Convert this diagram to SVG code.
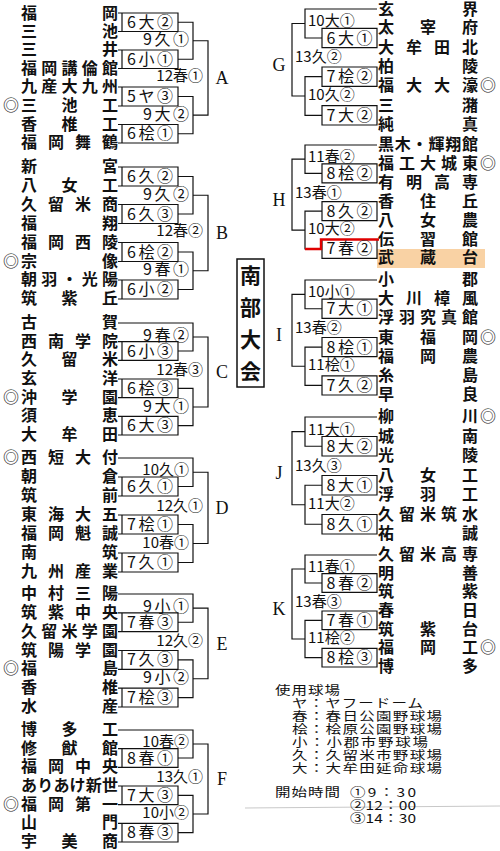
<svg xmlns="http://www.w3.org/2000/svg" width="500" height="851" viewBox="0 0 500 851">
<style>
text{font-family:"Noto Sans CJK JP","Noto Sans CJK SC",sans-serif;fill:#111}
.n{font-size:16px;font-weight:bold}
.m{font-size:16px}
.lb{font-size:16px}
.lb2{font-size:15px}
.ltr{font-family:"Liberation Serif","Noto Sans CJK JP",serif;font-size:18px;text-anchor:middle}
.c{text-anchor:middle}
.e{text-anchor:end}
.lg{font-size:15.5px}
#connectors path{fill:none;stroke:#111;stroke-width:1.2}
#connectors path.red{stroke:#e00000;stroke-width:2.4}
</style>
<rect width="500" height="851" fill="#fff"/>
<rect x="377" y="249" width="108" height="19" fill="#f9d2a4"/>
<path d="M245,808 L500,806" stroke="#c8c8c8" stroke-width="1" fill="none"/>
<g id="connectors">
<path d="M118,13H178V31.5H118M122,13V31.5M118,50H178V68.5H118M122,50V68.5M118,87H178V106H118M122,87V106M118,124.5H178V143H118M122,124.5V143M178,22.25H193V59.25H178M178,96.5H193V133.75H178M193,40.75H208V115.13H193"/>
<path d="M118,167H178V186H118M122,167V186M118,204.5H178V223.5H118M122,204.5V223.5M118,242.5H178V261.5H118M122,242.5V261.5M118,280H178V299H118M122,280V299M178,176.5H193V214H178M178,252H193V289.5H178M193,195.25H208V270.75H193"/>
<path d="M118,323H193V351H178M118,341.7H178V360.3H118M122,341.7V360.3M118,379H178V397.7H118M122,379V397.7M118,416.3H178V435H118M122,416.3V435M178,388.35H193V425.65H178M193,337H208V407H193"/>
<path d="M118,458H193V486.5H178M118,477H178V496H118M122,477V496M118,515H178V534H118M122,515V534M118,553H178V572H118M122,553V572M178,524.5H193V562.5H178M193,472.25H208V543.5H193"/>
<path d="M118,594H193V622.25H178M118,612.8H178V631.7H118M122,612.8V631.7M118,650.5H178V669.3H118M122,650.5V669.3M118,688.2H178V707H118M122,688.2V707M178,659.9H193V697.6H178M193,608.1H208V678.75H193"/>
<path d="M118,730H193V758H178M118,748.7H178V767.3H118M122,748.7V767.3M118,786H178V804.7H118M122,786V804.7M118,823.3H178V842H118M122,823.3V842M178,795.35H193V832.65H178M193,744H208V814H193"/>
<path d="M377,9H305V38H322M377,28.3H322V47.7H377ZM377,67H322V86.3H377ZM377,105.7H322V125H377ZM322,76.65H305V115.35H322M305,23.5H292V96H305"/>
<path d="M377,145H305V173.35H322M377,163.9H322V182.8H377ZM377,201.7H322V220.6H377ZM377,239.5H322V258.4H377ZM322,211.15H305V248.95H322M305,159.2H292V230.05H305"/>
<path class="red" d="M305,248.95H321V239.5H379"/>
<path d="M377,280H305V308.75H322M377,299.2H322V318.3H377ZM377,337.5H322V356.7H377ZM377,375.8H322V395H377ZM322,347.1H305V385.4H322M305,294.4H292V366.25H305"/>
<path d="M377,417H305V446.25H322M377,436.5H322V456H377ZM377,475.5H322V495H377ZM377,514.5H322V534H377ZM322,485.25H305V524.25H322M305,431.6H292V504.75H305"/>
<path d="M377,555H305V583H322M377,573.7H322V592.3H377ZM377,611H322V629.7H377ZM377,648.3H322V667H377ZM322,620.35H305V657.65H322M305,569H292V639H305"/>
</g>
<g id="block-A">
<text class="n" x="21" y="18.5" textLength="97" lengthAdjust="spacing">福岡</text>
<text class="n" x="21" y="36.5" textLength="97" lengthAdjust="spacing">三池</text>
<text class="n" x="21" y="55" textLength="97" lengthAdjust="spacing">三井</text>
<text class="n" x="21" y="73.5" textLength="97" lengthAdjust="spacing">福岡講倫館</text>
<text class="n" x="21" y="92" textLength="97" lengthAdjust="spacing">九産大九州</text>
<text class="m" x="3" y="111">◎</text>
<text class="n" x="21" y="111" textLength="97" lengthAdjust="spacing">三池工</text>
<text class="n" x="21" y="129.5" textLength="97" lengthAdjust="spacing">香椎工</text>
<text class="n" x="21" y="148" textLength="97" lengthAdjust="spacing">福岡舞鶴</text>
<text class="lb c" x="150" y="27.75" textLength="46" lengthAdjust="spacing">6大②</text>
<text class="lb c" x="150" y="64.75" textLength="46" lengthAdjust="spacing">6小①</text>
<text class="lb c" x="150" y="102" textLength="46" lengthAdjust="spacing">5ヤ③</text>
<text class="lb c" x="150" y="139.25" textLength="46" lengthAdjust="spacing">6桧①</text>
<text class="lb e" x="189" y="45.25" textLength="46" lengthAdjust="spacing">9久①</text>
<text class="lb e" x="189" y="119.6" textLength="46" lengthAdjust="spacing">9大②</text>
<text class="lb2 e" x="203" y="80.9">12春①</text>
<text class="ltr" x="222" y="84">A</text>
</g>
<g id="block-B">
<text class="n" x="21" y="172" textLength="97" lengthAdjust="spacing">新宮</text>
<text class="n" x="21" y="191" textLength="97" lengthAdjust="spacing">八女工</text>
<text class="n" x="21" y="209.5" textLength="97" lengthAdjust="spacing">久留米商</text>
<text class="n" x="21" y="228.5" textLength="97" lengthAdjust="spacing">福翔</text>
<text class="n" x="21" y="247.5" textLength="97" lengthAdjust="spacing">福岡西陵</text>
<text class="m" x="3" y="266.5">◎</text>
<text class="n" x="21" y="266.5" textLength="97" lengthAdjust="spacing">宗像</text>
<text class="n" x="21" y="285" textLength="97" lengthAdjust="spacing">朝羽・光陽</text>
<text class="n" x="21" y="304" textLength="97" lengthAdjust="spacing">筑紫丘</text>
<text class="lb c" x="150" y="182" textLength="46" lengthAdjust="spacing">6久②</text>
<text class="lb c" x="150" y="219.5" textLength="46" lengthAdjust="spacing">6久③</text>
<text class="lb c" x="150" y="257.5" textLength="46" lengthAdjust="spacing">6桧②</text>
<text class="lb c" x="150" y="295" textLength="46" lengthAdjust="spacing">6小②</text>
<text class="lb e" x="189" y="199.75" textLength="46" lengthAdjust="spacing">9久②</text>
<text class="lb e" x="189" y="275.25" textLength="46" lengthAdjust="spacing">9春①</text>
<text class="lb2 e" x="203" y="236">12春②</text>
<text class="ltr" x="222" y="239">B</text>
</g>
<g id="block-C">
<text class="n" x="21" y="328" textLength="97" lengthAdjust="spacing">古賀</text>
<text class="n" x="21" y="346.7" textLength="97" lengthAdjust="spacing">西南学院</text>
<text class="n" x="21" y="365.3" textLength="97" lengthAdjust="spacing">久留米</text>
<text class="n" x="21" y="384" textLength="97" lengthAdjust="spacing">玄洋</text>
<text class="m" x="3" y="402.7">◎</text>
<text class="n" x="21" y="402.7" textLength="97" lengthAdjust="spacing">沖学園</text>
<text class="n" x="21" y="421.3" textLength="97" lengthAdjust="spacing">須恵</text>
<text class="n" x="21" y="440" textLength="97" lengthAdjust="spacing">大牟田</text>
<text class="lb c" x="150" y="356.5" textLength="46" lengthAdjust="spacing">6小③</text>
<text class="lb c" x="150" y="393.85" textLength="46" lengthAdjust="spacing">6桧③</text>
<text class="lb c" x="150" y="431.15" textLength="46" lengthAdjust="spacing">6大③</text>
<text class="lb e" x="189" y="340.5" textLength="46" lengthAdjust="spacing">9春②</text>
<text class="lb e" x="189" y="411.5" textLength="46" lengthAdjust="spacing">9大①</text>
<text class="lb2 e" x="203" y="375">12春③</text>
<text class="ltr" x="222" y="378">C</text>
</g>
<g id="block-D">
<text class="m" x="3" y="463">◎</text>
<text class="n" x="21" y="463" textLength="97" lengthAdjust="spacing">西短大付</text>
<text class="n" x="21" y="482" textLength="97" lengthAdjust="spacing">朝倉</text>
<text class="n" x="21" y="501" textLength="97" lengthAdjust="spacing">筑前</text>
<text class="n" x="21" y="520" textLength="97" lengthAdjust="spacing">東海大五</text>
<text class="n" x="21" y="539" textLength="97" lengthAdjust="spacing">福岡魁誠</text>
<text class="n" x="21" y="558" textLength="97" lengthAdjust="spacing">南筑</text>
<text class="n" x="21" y="577" textLength="97" lengthAdjust="spacing">九州産業</text>
<text class="lb c" x="150" y="492" textLength="46" lengthAdjust="spacing">6久①</text>
<text class="lb c" x="150" y="530" textLength="46" lengthAdjust="spacing">7桧①</text>
<text class="lb c" x="150" y="568" textLength="46" lengthAdjust="spacing">7久①</text>
<text class="lb2 e" x="189" y="475.25">10久①</text>
<text class="lb2 e" x="189" y="547.5">10春①</text>
<text class="lb2 e" x="203" y="510.9">12久①</text>
<text class="ltr" x="222" y="514">D</text>
</g>
<g id="block-E">
<text class="n" x="21" y="599" textLength="97" lengthAdjust="spacing">中村三陽</text>
<text class="n" x="21" y="617.8" textLength="97" lengthAdjust="spacing">筑紫中央</text>
<text class="n" x="21" y="636.7" textLength="97" lengthAdjust="spacing">久留米学園</text>
<text class="n" x="21" y="655.5" textLength="97" lengthAdjust="spacing">筑陽学園</text>
<text class="m" x="3" y="674.3">◎</text>
<text class="n" x="21" y="674.3" textLength="97" lengthAdjust="spacing">福島</text>
<text class="n" x="21" y="693.2" textLength="97" lengthAdjust="spacing">香椎</text>
<text class="n" x="21" y="712" textLength="97" lengthAdjust="spacing">水産</text>
<text class="lb c" x="150" y="627.75" textLength="46" lengthAdjust="spacing">7春③</text>
<text class="lb c" x="150" y="665.4" textLength="46" lengthAdjust="spacing">7久③</text>
<text class="lb c" x="150" y="703.1" textLength="46" lengthAdjust="spacing">7桧③</text>
<text class="lb e" x="189" y="611.6" textLength="46" lengthAdjust="spacing">9小①</text>
<text class="lb e" x="189" y="683.25" textLength="46" lengthAdjust="spacing">9小②</text>
<text class="lb2 e" x="203" y="646.4">12久②</text>
<text class="ltr" x="222" y="649.5">E</text>
</g>
<g id="block-F">
<text class="n" x="21" y="735" textLength="97" lengthAdjust="spacing">博多工</text>
<text class="n" x="21" y="753.7" textLength="97" lengthAdjust="spacing">修猷館</text>
<text class="n" x="21" y="772.3" textLength="97" lengthAdjust="spacing">福岡中央</text>
<text class="n" x="21" y="791" textLength="97" lengthAdjust="spacing">ありあけ新世</text>
<text class="m" x="3" y="809.7">◎</text>
<text class="n" x="21" y="809.7" textLength="97" lengthAdjust="spacing">福岡第一</text>
<text class="n" x="21" y="828.3" textLength="97" lengthAdjust="spacing">山門</text>
<text class="n" x="21" y="847" textLength="97" lengthAdjust="spacing">宇美商</text>
<text class="lb c" x="150" y="763.5" textLength="46" lengthAdjust="spacing">8春①</text>
<text class="lb c" x="150" y="800.85" textLength="46" lengthAdjust="spacing">7大③</text>
<text class="lb c" x="150" y="838.15" textLength="46" lengthAdjust="spacing">8春③</text>
<text class="lb2 e" x="189" y="747">10春②</text>
<text class="lb2 e" x="189" y="818">10小②</text>
<text class="lb2 e" x="203" y="782">13久①</text>
<text class="ltr" x="222" y="785">F</text>
</g>
<g id="block-G">
<text class="n" x="378" y="15" textLength="100" lengthAdjust="spacing">玄界</text>
<text class="n" x="378" y="33.3" textLength="100" lengthAdjust="spacing">太宰府</text>
<text class="n" x="378" y="52.7" textLength="100" lengthAdjust="spacing">大牟田北</text>
<text class="n" x="378" y="72" textLength="100" lengthAdjust="spacing">柏陵</text>
<text class="n" x="378" y="91.3" textLength="100" lengthAdjust="spacing">福大大濠</text>
<text class="m" x="480" y="91.3">◎</text>
<text class="n" x="378" y="110.7" textLength="100" lengthAdjust="spacing">三潴</text>
<text class="n" x="378" y="130" textLength="100" lengthAdjust="spacing">純真</text>
<text class="lb c" x="349.5" y="43.5" textLength="46" lengthAdjust="spacing">6大①</text>
<text class="lb c" x="349.5" y="82.15" textLength="46" lengthAdjust="spacing">7桧②</text>
<text class="lb c" x="349.5" y="120.85" textLength="46" lengthAdjust="spacing">7大②</text>
<text class="lb2" x="308" y="26">10大①</text>
<text class="lb2" x="308" y="100">10久②</text>
<text class="lb2" x="295" y="62">13久②</text>
<text class="ltr" x="279" y="71">G</text>
</g>
<g id="block-H">
<text class="n" x="378" y="150" textLength="100" lengthAdjust="spacing">黒木・輝翔館</text>
<text class="n" x="378" y="168.9" textLength="100" lengthAdjust="spacing">福工大城東</text>
<text class="m" x="480" y="168.9">◎</text>
<text class="n" x="378" y="187.8" textLength="100" lengthAdjust="spacing">有明高専</text>
<text class="n" x="378" y="206.7" textLength="100" lengthAdjust="spacing">香住丘</text>
<text class="n" x="378" y="225.6" textLength="100" lengthAdjust="spacing">八女農</text>
<text class="n" x="378" y="244.5" textLength="100" lengthAdjust="spacing">伝習館</text>
<text class="n" x="378" y="263.4" textLength="100" lengthAdjust="spacing">武蔵台</text>
<text class="lb c" x="349.5" y="178.85" textLength="46" lengthAdjust="spacing">8桧②</text>
<text class="lb c" x="349.5" y="216.65" textLength="46" lengthAdjust="spacing">8久②</text>
<text class="lb c" x="349.5" y="254.45" textLength="46" lengthAdjust="spacing">7春②</text>
<text class="lb2" x="308" y="162">11春②</text>
<text class="lb2" x="308" y="234">10大②</text>
<text class="lb2" x="295" y="197.6">13春①</text>
<text class="ltr" x="279" y="206">H</text>
</g>
<g id="block-I">
<text class="n" x="378" y="285" textLength="100" lengthAdjust="spacing">小郡</text>
<text class="n" x="378" y="304.2" textLength="100" lengthAdjust="spacing">大川樟風</text>
<text class="n" x="378" y="323.3" textLength="100" lengthAdjust="spacing">浮羽究真館</text>
<text class="n" x="378" y="342.5" textLength="100" lengthAdjust="spacing">東福岡</text>
<text class="m" x="480" y="342.5">◎</text>
<text class="n" x="378" y="361.7" textLength="100" lengthAdjust="spacing">福岡農</text>
<text class="n" x="378" y="380.8" textLength="100" lengthAdjust="spacing">糸島</text>
<text class="n" x="378" y="400" textLength="100" lengthAdjust="spacing">早良</text>
<text class="lb c" x="349.5" y="314.25" textLength="46" lengthAdjust="spacing">7大①</text>
<text class="lb c" x="349.5" y="352.6" textLength="46" lengthAdjust="spacing">8桧①</text>
<text class="lb c" x="349.5" y="390.9" textLength="46" lengthAdjust="spacing">7久②</text>
<text class="lb2" x="308" y="297">10小①</text>
<text class="lb2" x="308" y="370.25">11桧①</text>
<text class="lb2" x="295" y="333.3">13春②</text>
<text class="ltr" x="279" y="341">I</text>
</g>
<g id="block-J">
<text class="n" x="378" y="422" textLength="100" lengthAdjust="spacing">柳川</text>
<text class="m" x="480" y="422">◎</text>
<text class="n" x="378" y="441.5" textLength="100" lengthAdjust="spacing">城南</text>
<text class="n" x="378" y="461" textLength="100" lengthAdjust="spacing">光陵</text>
<text class="n" x="378" y="480.5" textLength="100" lengthAdjust="spacing">八女工</text>
<text class="n" x="378" y="500" textLength="100" lengthAdjust="spacing">浮羽工</text>
<text class="n" x="378" y="519.5" textLength="100" lengthAdjust="spacing">久留米筑水</text>
<text class="n" x="378" y="539" textLength="100" lengthAdjust="spacing">祐誠</text>
<text class="lb c" x="349.5" y="451.75" textLength="46" lengthAdjust="spacing">8大②</text>
<text class="lb c" x="349.5" y="490.75" textLength="46" lengthAdjust="spacing">8大①</text>
<text class="lb c" x="349.5" y="529.75" textLength="46" lengthAdjust="spacing">8久①</text>
<text class="lb2" x="308" y="434.6">11大①</text>
<text class="lb2" x="308" y="508.75">11大②</text>
<text class="lb2" x="295" y="471.2">13久③</text>
<text class="ltr" x="279" y="479">J</text>
</g>
<g id="block-K">
<text class="n" x="378" y="560" textLength="100" lengthAdjust="spacing">久留米高専</text>
<text class="n" x="378" y="578.7" textLength="100" lengthAdjust="spacing">明善</text>
<text class="n" x="378" y="597.3" textLength="100" lengthAdjust="spacing">筑紫</text>
<text class="n" x="378" y="616" textLength="100" lengthAdjust="spacing">春日</text>
<text class="n" x="378" y="634.7" textLength="100" lengthAdjust="spacing">筑紫台</text>
<text class="n" x="378" y="653.3" textLength="100" lengthAdjust="spacing">福岡工</text>
<text class="m" x="480" y="653.3">◎</text>
<text class="n" x="378" y="672" textLength="100" lengthAdjust="spacing">博多</text>
<text class="lb c" x="349.5" y="588.5" textLength="46" lengthAdjust="spacing">8春②</text>
<text class="lb c" x="349.5" y="625.85" textLength="46" lengthAdjust="spacing">7春①</text>
<text class="lb c" x="349.5" y="663.15" textLength="46" lengthAdjust="spacing">8桧③</text>
<text class="lb2" x="308" y="572">11春①</text>
<text class="lb2" x="308" y="643">11桧②</text>
<text class="lb2" x="295" y="607">13春③</text>
<text class="ltr" x="279" y="615">K</text>
</g>
<g id="title">
<rect x="237" y="259" width="27" height="128" fill="#fff" stroke="#111" stroke-width="1.5"/>
<text class="c" x="250.5" y="283" font-size="21" font-weight="bold">南</text>
<text class="c" x="250.5" y="315" font-size="21" font-weight="bold">部</text>
<text class="c" x="250.5" y="347" font-size="21" font-weight="bold">大</text>
<text class="c" x="250.5" y="379" font-size="21" font-weight="bold">会</text>
</g>
<g id="legend">
<text class="lg" transform="translate(275,695) scale(1,0.8)" textLength="65" lengthAdjust="spacing">使用球場</text>
<text class="lg" transform="translate(292,708) scale(1,0.8)" textLength="131" lengthAdjust="spacing">ヤ：ヤフードーム</text>
<text class="lg" transform="translate(292,721) scale(1,0.8)" textLength="150" lengthAdjust="spacing">春：春日公園野球場</text>
<text class="lg" transform="translate(292,734) scale(1,0.8)" textLength="150" lengthAdjust="spacing">桧：桧原公園野球場</text>
<text class="lg" transform="translate(292,747) scale(1,0.8)" textLength="136" lengthAdjust="spacing">小：小郡市野球場</text>
<text class="lg" transform="translate(292,760) scale(1,0.8)" textLength="150" lengthAdjust="spacing">久：久留米市野球場</text>
<text class="lg" transform="translate(292,773) scale(1,0.8)" textLength="150" lengthAdjust="spacing">大：大牟田延命球場</text>
<text class="lg" transform="translate(275,797) scale(1,0.8)" textLength="65" lengthAdjust="spacing">開始時間</text>
<text class="lg" transform="translate(350,797) scale(1,0.8)" textLength="66" lengthAdjust="spacing">①9：30</text>
<text class="lg" transform="translate(350,810) scale(1,0.8)" textLength="66" lengthAdjust="spacing">②12：00</text>
<text class="lg" transform="translate(350,823) scale(1,0.8)" textLength="66" lengthAdjust="spacing">③14：30</text>
</g>
</svg>
